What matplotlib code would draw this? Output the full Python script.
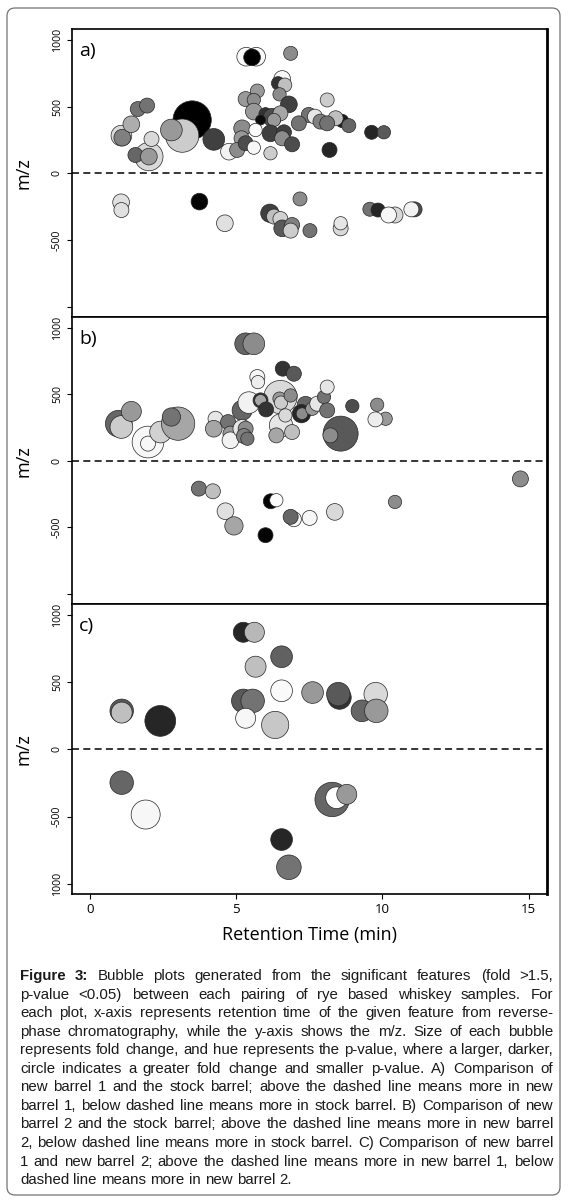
import matplotlib
matplotlib.use('Agg')
import matplotlib.pyplot as plt
from matplotlib.patches import FancyBboxPatch
from matplotlib.transforms import IdentityTransform

# a) new barrel 1 vs stock barrel
rt_a = [1.07, 1.10, 1.41, 1.63, 1.95, 2.01, 2.10, 1.55, 2.01,
        3.49, 3.15, 2.78, 4.23,
        5.34, 5.68, 5.54, 6.86, 6.57, 6.43, 6.66,
        5.72, 5.32, 5.60, 6.48, 6.80, 5.60, 6.00, 6.23, 6.51, 6.29, 5.83, 5.20, 5.18,
        6.17, 6.63, 6.57, 6.91, 5.66, 4.75, 5.03, 5.32, 5.60, 6.17,
        7.48, 7.14, 7.69, 7.88, 8.11, 8.62, 8.40, 8.11, 8.85, 9.63, 10.05, 8.19,
        1.06, 1.07, 3.74, 4.61, 6.15, 6.29, 6.51, 6.57, 6.91, 6.86, 7.18, 7.52,
        8.57, 8.57, 9.57, 9.85, 10.43, 10.21, 11.10, 10.99]
mz_a = [282, 267, 367, 481, 507, 125, 257, 137, 125,
        399, 282, 324, 254,
        873, 873, 868, 898, 706, 674, 661,
        616, 556, 549, 591, 516, 462, 442, 417, 449, 399, 399, 337, 262,
        299, 307, 262, 217, 324, 162, 175, 225, 192, 150,
        437, 374, 424, 387, 549, 392, 412, 374, 357, 307, 307, 175,
        -217, -275, -212, -374, -299, -324, -342, -412, -387, -429, -192, -429,
        -412, -374, -269, -275, -312, -312, -270, -270]
fold_a = [2.07, 1.67, 1.67, 1.50, 1.50, 2.83, 1.50, 1.50, 1.67,
          3.83, 3.33, 2.17, 2.17,
          1.87, 1.87, 1.67, 1.40, 1.67, 1.33, 1.40,
          1.40, 1.50, 1.33, 1.33, 1.67, 1.67, 1.33, 1.83, 1.50, 1.33, 1.00, 1.67, 1.50,
          1.67, 1.50, 1.50, 1.50, 1.33, 1.67, 1.50, 1.50, 1.33, 1.33,
          1.50, 1.50, 1.50, 1.50, 1.40, 1.33, 1.50, 1.50, 1.40, 1.40, 1.33, 1.50,
          1.67, 1.50, 1.67, 1.67, 1.83, 1.50, 1.50, 1.67, 1.50, 1.50, 1.40, 1.40,
          1.50, 1.33, 1.40, 1.40, 1.60, 1.60, 1.50, 1.50]
shade_a = [0.85, 0.50, 0.68, 0.45, 0.45, 0.85, 0.85, 0.40, 0.60,
           0.00, 0.80, 0.60, 0.25,
           0.98, 0.98, 0.00, 0.55, 0.97, 0.20, 0.75,
           0.60, 0.60, 0.55, 0.55, 0.25, 0.60, 0.20, 0.30, 0.65, 0.60, 0.05, 0.55, 0.60,
           0.25, 0.25, 0.55, 0.30, 0.99, 0.95, 0.55, 0.30, 0.97, 0.80,
           0.45, 0.45, 0.90, 0.50, 0.80, 0.10, 0.75, 0.45, 0.40, 0.15, 0.35, 0.15,
           0.88, 0.88, 0.02, 0.88, 0.25, 0.75, 0.82, 0.35, 0.50, 0.80, 0.55, 0.45,
           0.85, 0.90, 0.45, 0.15, 0.85, 0.97, 0.30, 0.95]

# b) new barrel 2 vs stock barrel
rt_b = [0.98, 1.07, 1.41, 1.98, 1.98, 2.41, 3.01, 2.78,
        5.32, 5.60, 6.59, 6.97, 5.72, 5.74,
        6.51, 5.20, 6.53, 5.43, 5.83, 5.83, 6.02, 6.48, 6.53, 6.86, 6.68,
        7.37, 7.23, 7.25, 7.60, 7.77, 8.00, 8.11, 8.11, 8.97, 8.57, 8.22,
        9.82, 10.11, 9.76,
        4.29, 4.23, 4.72, 4.80, 4.80, 5.20, 5.32, 5.26, 5.38, 6.37, 6.91,
        3.72, 4.20, 6.18, 6.37, 4.63, 4.92, 6.97, 6.86, 7.51, 8.37, 6.00, 10.43, 14.72]
mz_b = [279, 254, 371, 141, 129, 216, 279, 329,
        879, 879, 692, 654, 629, 591,
        479, 379, 266, 437, 454, 454, 386, 467, 437, 491, 341,
        421, 354, 354, 391, 429, 479, 554, 379, 411, 204, 191,
        421, 316, 311,
        316, 241, 291, 204, 154, 241, 241, 186, 166, 191, 216,
        -209, -229, -304, -296, -379, -489, -439, -421, -429, -384, -559, -309, -136]
fold_b = [2.67, 2.27, 2.00, 3.17, 1.50, 2.17, 3.33, 1.83,
          2.17, 2.17, 1.50, 1.50, 1.50, 1.33,
          3.33, 2.00, 2.33, 2.17, 1.50, 1.17, 1.50, 1.33, 1.33, 1.33, 1.33,
          1.67, 1.83, 1.17, 1.33, 1.50, 1.33, 1.40, 1.50, 1.33, 3.50, 1.50,
          1.33, 1.33, 1.50,
          1.50, 1.67, 1.50, 1.50, 1.67, 1.83, 1.50, 1.50, 1.33, 1.50, 1.50,
          1.50, 1.50, 1.50, 1.33, 1.67, 1.83, 1.50, 1.50, 1.50, 1.67, 1.50, 1.33, 1.60]
shade_b = [0.40, 0.80, 0.60, 0.97, 0.97, 0.82, 0.65, 0.45,
           0.40, 0.55, 0.20, 0.35, 0.97, 0.93,
           0.85, 0.40, 0.90, 0.95, 0.20, 0.65, 0.20, 0.60, 0.80, 0.55, 0.85,
           0.40, 0.15, 0.55, 0.60, 0.90, 0.45, 0.90, 0.45, 0.30, 0.35, 0.55,
           0.55, 0.60, 0.93,
           0.90, 0.65, 0.45, 0.60, 0.95, 0.90, 0.55, 0.50, 0.45, 0.65, 0.75,
           0.45, 0.75, 0.02, 0.99, 0.88, 0.65, 0.97, 0.40, 0.97, 0.85, 0.02, 0.55, 0.55]

# c) new barrel 1 vs new barrel 2
rt_c = [1.08, 1.08, 2.40, 5.24, 5.62, 6.55, 5.66, 6.55, 7.61, 8.53, 8.49, 9.77,
        9.30, 9.79, 5.24, 5.56, 5.32, 6.33, 1.08, 1.90, 8.28, 8.43, 8.78, 6.55, 6.80]
mz_c = [286, 273, 211, 870, 870, 688, 614, 435, 422, 385, 410, 410,
        286, 286, 360, 360, 231, 181, -248, -485, -373, -360, -335, -671, -877]
fold_c = [2.35, 2.10, 3.08, 2.00, 2.00, 2.17, 2.10, 2.17, 2.17, 2.35, 2.35, 2.35,
          2.17, 2.35, 2.35, 2.35, 2.00, 2.72, 2.35, 2.90, 3.44, 2.17, 2.00, 2.17, 2.46]
shade_c = [0.35, 0.75, 0.15, 0.15, 0.72, 0.38, 0.75, 0.98, 0.60, 0.20, 0.35, 0.85,
           0.40, 0.60, 0.35, 0.45, 0.97, 0.78, 0.40, 0.97, 0.40, 1.00, 0.60, 0.15, 0.45]

panel_names = ['a)', 'b)', 'c)']
y_ticks = [-1000, -500, 0, 500, 1000]
# the bottom label of the upper two panels is hidden under the panel below
y_ticklabels = [['', '-500', '0', '500', '1000'],
                ['', '-500', '0', '500', '1000'],
                ['1000', '-500', '0', '500', '1000']]
x_ticks = [0, 5, 10, 15]

caption_lines = [
    "Figure 3: Bubble plots generated from the significant features (fold >1.5,",
    "p-value <0.05) between each pairing of rye based whiskey samples. For",
    "each plot, x-axis represents retention time of the given feature from reverse-",
    "phase chromatography, while the y-axis shows the m/z. Size of each bubble",
    "represents fold change, and hue represents the p-value, where a larger, darker,",
    "circle indicates a greater fold change and smaller p-value. A) Comparison of",
    "new barrel 1 and the stock barrel; above the dashed line means more in new",
    "barrel 1, below dashed line means more in stock barrel. B) Comparison of new",
    "barrel 2 and the stock barrel; above the dashed line means more in new barrel",
    "2, below dashed line means more in stock barrel. C) Comparison of new barrel",
    "1 and new barrel 2; above the dashed line means more in new barrel 1, below",
    "dashed line means more in new barrel 2.",
]

W, H = 570, 1202
fig = plt.figure(figsize=(W / 100, H / 100), dpi=100)
font = 'Open Sans'

# axes boxes in pixels (left, top, right, bottom)
boxes = [(72, 29.3, 547, 317.3), (72, 317.3, 547, 604.3), (72, 604.3, 547, 894.3)]
data = [(rt_a, mz_a, fold_a, shade_a), (rt_b, mz_b, fold_b, shade_b), (rt_c, mz_c, fold_c, shade_c)]

for i, ((l, t, r, b), (rt, mz, fold, shade)) in enumerate(zip(boxes, data)):
    ax = fig.add_axes([l / W, 1 - b / H, (r - l) / W, (b - t) / H])
    cols = [str(g) for g in shade]
    sizes = [(f * 10 * 0.72) ** 2 for f in fold]
    ax.scatter(rt, mz, s=sizes, c=cols, edgecolors='0.15', linewidths=0.5, zorder=3)
    ax.axhline(0, color='black', lw=1.1, ls=(0, (4.6, 2.8)), zorder=2)
    ax.set_xlim(-0.62, 15.63)
    ax.set_ylim(-1078, 1078)
    ax.set_yticks(y_ticks)
    ax.set_yticklabels(y_ticklabels[i], rotation=90, va='center', fontsize=7.6, family=font)
    ax.tick_params(axis='y', length=3.5, width=0.8, pad=3)
    ax.set_ylabel('m/z', fontsize=13, family=font)
    ax.yaxis.set_label_coords(-0.084, 0.5)
    for side in ax.spines:
        ax.spines[side].set_linewidth(1.2)
    ax.spines['right'].set_linewidth(2.0)
    ax.text(0.015, 0.925, panel_names[i], transform=ax.transAxes, fontsize=14,
            family=font, ha='left', va='center')
    if i < 2:
        ax.set_xticks([])
    else:
        ax.set_xticks(x_ticks)
        ax.set_xticklabels([str(v) for v in x_ticks], fontsize=9.5, family=font)
        ax.tick_params(axis='x', length=3.5, width=0.8, pad=3)

fig.text(309.5 / W, 1 - 935 / H, 'Retention Time (min)', fontsize=13, family=font,
         ha='center', va='center')

# rounded outer frame
frame = FancyBboxPatch((7, H - 1195), 553, 1187, boxstyle='round,pad=0,rounding_size=8',
                       transform=IdentityTransform(), fc='none', ec='0.45', lw=0.9)
fig.patches.append(frame)

# justified caption
renderer = fig.canvas.get_renderer()
cap_left, cap_right = 20, 553
for i, line in enumerate(caption_lines):
    words = line.split(' ')
    yb = 1 - (980 + i * 18.55) / H
    arts = []
    for j, w in enumerate(words):
        bold = i == 0 and j < 2
        arts.append(fig.text(0, yb, w, fontsize=10.8, family='Liberation Sans',
                             weight='bold' if bold else 'normal', color='#1a1a1a',
                             ha='left', va='baseline'))
    widths = [a.get_window_extent(renderer).width for a in arts]
    if i < len(caption_lines) - 1:
        gap = (cap_right - cap_left - sum(widths)) / (len(words) - 1)
    else:
        gap = 4.2
    x = cap_left
    for a, wd in zip(arts, widths):
        a.set_x(x / W)
        x += wd + gap

fig.savefig('out.png', dpi=100)
